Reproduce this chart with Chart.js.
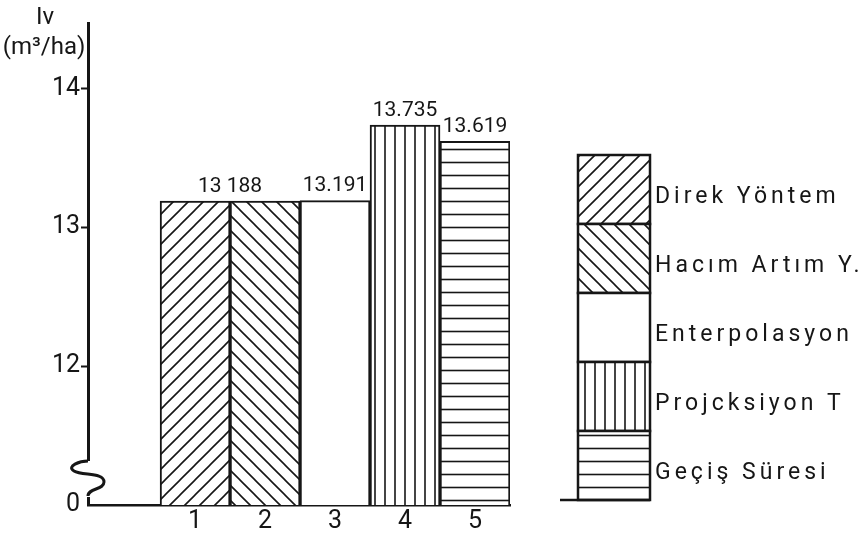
<!DOCTYPE html>
<html><head><meta charset="utf-8">
<script src="https://cdn.jsdelivr.net/npm/chart.js@4/dist/chart.umd.min.js"></script>
<style>html,body{margin:0;padding:0;background:#fff}#wrap{width:868px;height:536px}</style>
</head><body><div id="wrap"><canvas id="c" width="868" height="536"></canvas></div>
<script>
const categories = [1, 2, 3, 4, 5];
const values = [13.188, 13.188, 13.191, 13.735, 13.619];
const valueLabels = ['13 188', '', '13.191', '13.735', '13.619'];
const methodNames = ['Direk Yöntem', 'Hacım Artım Y.', 'Enterpolasyon', 'Projcksiyon T', 'Geçiş Süresi'];
const yTickValues = [11, 12, 13, 14];
const yTickLabels = ['0', '12', '13', '14'];
const yUnitLines = ['Iv', '(m³/ha)'];
const patternKinds = ['diagUp', 'diagDown', 'none', 'vertical', 'horizontal'];

const INK = '#161616';
const FONT = 'Roboto, "Liberation Sans", sans-serif';

function makePattern(kind) {
  if (kind === 'none') return '#ffffff';
  const c = document.createElement('canvas');
  const g = c.getContext('2d');
  let s = 15;
  if (kind === 'vertical') s = 10;
  if (kind === 'horizontal') s = 13;
  c.width = s; c.height = s;
  g.fillStyle = '#fff'; g.fillRect(0, 0, s, s);
  g.strokeStyle = INK; g.lineWidth = 1.6;
  g.beginPath();
  if (kind === 'diagUp') {
    g.moveTo(0, s); g.lineTo(s, 0);
    g.moveTo(-2, 2); g.lineTo(2, -2);
    g.moveTo(s - 2, s + 2); g.lineTo(s + 2, s - 2);
  } else if (kind === 'diagDown') {
    g.moveTo(0, 0); g.lineTo(s, s);
    g.moveTo(-2, s - 2); g.lineTo(2, s + 2);
    g.moveTo(s - 2, -2); g.lineTo(s + 2, 2);
  } else if (kind === 'vertical') {
    g.moveTo(s / 2, 0); g.lineTo(s / 2, s);
  } else {
    g.moveTo(0, s / 2); g.lineTo(s, s / 2);
  }
  g.stroke();
  return g.createPattern(c, 'repeat');
}
const patterns = patternKinds.map(makePattern);

const decorPlugin = {
  id: 'decor',
  afterDatasetsDraw(chart) {
    const ctx = chart.ctx;
    const meta = chart.getDatasetMeta(0);
    ctx.save();
    ctx.fillStyle = INK;
    ctx.font = '21px ' + FONT;
    ctx.textAlign = 'center';
    ctx.textBaseline = 'bottom';
    for (let i = 0; i < valueLabels.length; i++) {
      if (!valueLabels[i]) continue;
      let j = i;
      while (j + 1 < valueLabels.length && !valueLabels[j + 1]) j++;
      const x = (meta.data[i].x + meta.data[j].x) / 2;
      const y = Math.min(meta.data[i].y, meta.data[j].y);
      ctx.fillText(valueLabels[i], x, y - 4);
    }
    ctx.restore();
  },
  afterDraw(chart) {
    const ctx = chart.ctx;
    const area = chart.chartArea;
    const ys = chart.scales.y;
    ctx.save();
    // axis break
    const x = area.left;
    const yb = ys.getPixelForValue(yTickValues[0]);
    ctx.fillStyle = '#fff';
    ctx.fillRect(x - 3, yb - 44, 6, 36);
    ctx.strokeStyle = INK; ctx.lineWidth = 3;
    ctx.beginPath();
    ctx.moveTo(x, yb - 44);
    ctx.bezierCurveTo(x - 8, yb - 44, x - 22, yb - 39, x - 14, yb - 34);
    ctx.bezierCurveTo(x - 6, yb - 29, x + 16, yb - 33, x + 16, yb - 23);
    ctx.bezierCurveTo(x + 16, yb - 15, x, yb - 17, x, yb - 9);
    ctx.stroke();
    // unit label
    ctx.fillStyle = INK;
    ctx.font = '24px ' + FONT;
    ctx.textAlign = 'center';
    ctx.textBaseline = 'alphabetic';
    ctx.fillText(yUnitLines[0], x - 43, area.top + 1);
    ctx.fillText(yUnitLines[1], x - 44, area.top + 31);
    // legend box
    const boxL = area.right + 68, boxW = 72, secH = 69;
    const boxB = area.bottom - 5;
    const boxT = boxB - secH * methodNames.length;
    ctx.lineWidth = 2.5;
    ctx.font = '23px ' + FONT;
    ctx.textAlign = 'left';
    ctx.textBaseline = 'middle';
    if ('letterSpacing' in ctx) ctx.letterSpacing = '4px';
    for (let i = 0; i < methodNames.length; i++) {
      const t = boxT + i * secH;
      ctx.fillStyle = patterns[i];
      ctx.fillRect(boxL, t, boxW, secH);
      ctx.strokeStyle = INK;
      ctx.strokeRect(boxL, t, boxW, secH);
      ctx.fillStyle = INK;
      ctx.fillText(methodNames[i], boxL + boxW + 5, t + secH / 2 + 8);
    }
    ctx.beginPath();
    ctx.moveTo(boxL - 18, boxB); ctx.lineTo(boxL + boxW, boxB);
    ctx.stroke();
    ctx.restore();
  }
};

new Chart(document.getElementById('c'), {
  type: 'bar',
  data: {
    datasets: [{
      data: categories.map((c, i) => ({ x: c, y: values[i] })),
      backgroundColor: patterns,
      borderColor: INK,
      borderWidth: 2,
      barPercentage: 1,
      categoryPercentage: 1
    }]
  },
  options: {
    responsive: false,
    animation: false,
    layout: { padding: { top: 23, right: 358, left: 0, bottom: 0 } },
    plugins: { legend: { display: false }, tooltip: { enabled: false } },
    scales: {
      x: {
        type: 'linear', offset: false, min: -0.53, max: 5.5,
        afterBuildTicks: s => { s.ticks = categories.map(v => ({ value: v })); },
        afterFit: s => { s.height = 31; },
        ticks: { callback: v => String(v), color: INK, font: { family: FONT, size: 25 }, padding: 2, maxRotation: 0, autoSkip: false },
        grid: { display: false, drawTicks: false },
        border: { display: true, color: INK, width: 2.5 }
      },
      y: {
        min: 11, max: 14.47,
        afterBuildTicks: s => { s.ticks = yTickValues.map(v => ({ value: v })); },
        afterFit: s => { s.width = 88; },
        ticks: {
          callback: v => yTickLabels[yTickValues.indexOf(v)],
          color: INK, font: { family: FONT, size: 25 }, padding: 1, autoSkip: false
        },
        grid: {
          drawOnChartArea: false, drawTicks: true, tickLength: 7, tickWidth: 2,
          tickColor: c => (c.tick && c.tick.value === yTickValues[0]) ? 'rgba(0,0,0,0)' : INK
        },
        border: { display: true, color: INK, width: 3 }
      }
    }
  },
  plugins: [decorPlugin]
});
</script>
</body></html>
